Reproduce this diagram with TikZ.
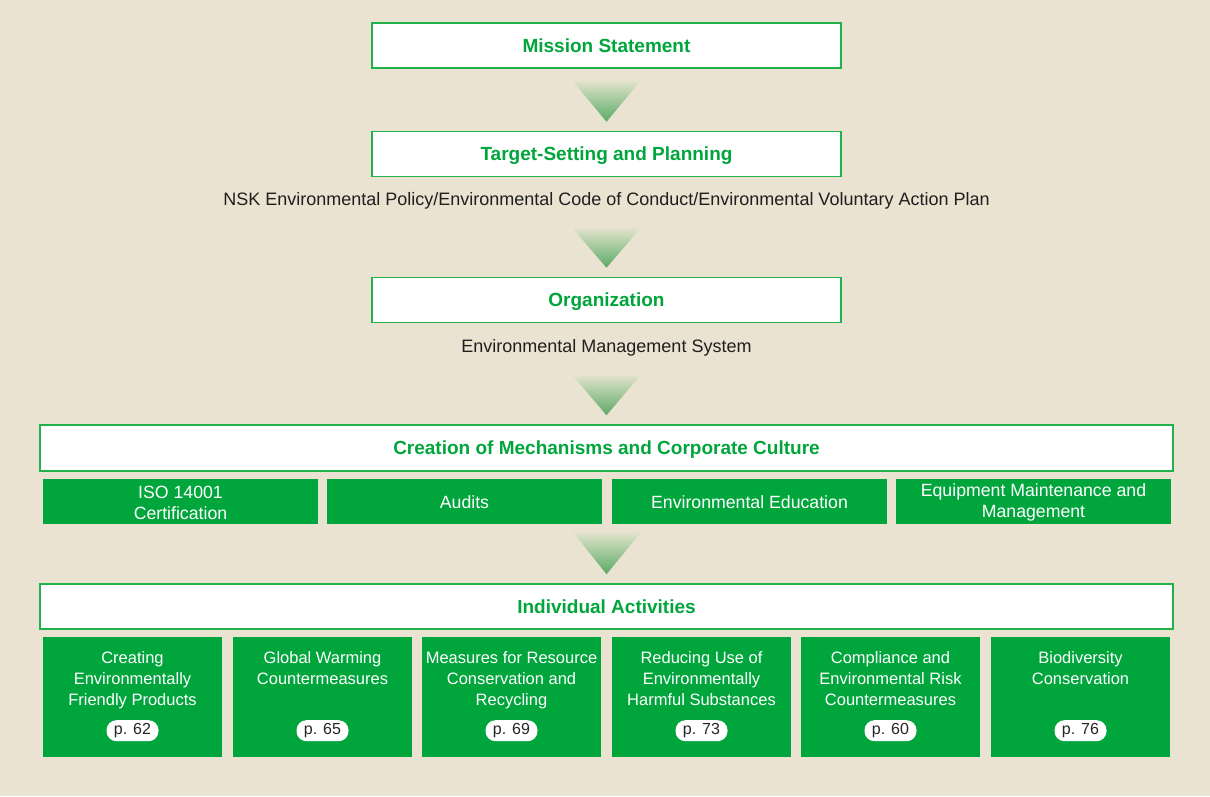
\documentclass[tikz,border=0pt]{standalone}
\usepackage{fontspec}
\setmainfont{Liberation Sans}
\usetikzlibrary{calc}
\definecolor{bg}{HTML}{EAE3D1}
\definecolor{nskgreen}{HTML}{00A63C}
\definecolor{edgegreen}{HTML}{22B24C}
\definecolor{tritop}{HTML}{E2E3CB}
\definecolor{tribot}{HTML}{5AAA66}
\tikzset{
  titlebox/.style={draw=edgegreen, line width=1.5pt, fill=white, minimum height=45, inner sep=0,
    text height=13.6, text depth=0,
    text=nskgreen, font=\fontsize{19}{22}\selectfont\bfseries},
  subbox/.style={fill=nskgreen, minimum width=275, minimum height=45, inner sep=0},
  actbox/.style={fill=nskgreen, minimum width=179, minimum height=120, inner sep=0},
  whitetext/.style={text=white, align=center, inner sep=0, font=\fontsize{16.5}{21}\selectfont},
  subtext/.style={text=white, align=center, inner sep=0, font=\fontsize{17.7}{21}\selectfont},
  pill/.style={fill=white, rounded corners=10, minimum width=52, minimum height=21, inner sep=0,
    text=black!85, font=\fontsize{16}{18}\selectfont},
  plain/.style={text=black!88, inner sep=0, font=\fontsize{18}{20}\selectfont},
  tri/.style={top color=tritop, bottom color=tribot, draw=none}
}
\begin{document}
\begin{tikzpicture}[x=1pt,y=-1pt]
\fill[bg] (0,0) rectangle (1210,796);
\useasboundingbox (0,0) rectangle (1210,796);

\node[titlebox, minimum width=469] (ms) at (606.5,45.5) {Mission Statement};
\node[titlebox, minimum width=469] (tp) at (606.5,154) {Target-Setting and Planning};
\node[plain] (pol) at (606.5,200.5) {NSK Environmental Policy/Environmental Code of Conduct/Environmental Voluntary Action Plan};
\node[titlebox, minimum width=469] (org) at (606.5,300) {Organization};
\node[plain] (ems) at (606.5,347.5) {Environmental Management System};
\node[titlebox, minimum width=1133, minimum height=46] (cr) at (606.5,448) {Creation of Mechanisms and Corporate Culture};

\node[subbox] (s1) at (180.5,501.5) {};
\node[subbox] (s2) at (464.5,501.5) {};
\node[subbox] (s3) at (749.5,501.5) {};
\node[subbox] (s4) at (1033.5,501.5) {};
\node[subtext] (s1t) at ($(s1)+(0,1)$) {ISO 14001\\Certification};
\node[subtext] (s2t) at ($(s2)+(0,1)$) {Audits};
\node[subtext] (s3t) at ($(s3)+(0,1)$) {Environmental Education};
\node[subtext] (s4t) at ($(s4)+(0,1)$) {Equipment Maintenance and\\Management};

\node[titlebox, minimum width=1133] (ia) at (606.5,606.5) {Individual Activities};

\foreach \i/\x/\t/\p in {
  1/132.5/{Creating\\Environmentally\\Friendly Products}/62,
  2/322.5/{Global Warming\\Countermeasures}/65,
  3/511.5/{Measures for Resource\\Conservation and\\Recycling}/69,
  4/701.5/{Reducing Use of\\Environmentally\\Harmful Substances}/73,
  5/890.5/{Compliance and\\Environmental Risk\\Countermeasures}/60,
  6/1080.5/{Biodiversity\\Conservation}/76}{
  \node[actbox] (a\i) at (\x,697) {};
  \node[whitetext, anchor=north] (a\i t) at ($(a\i.north)+(0,14.5)$) {\t};
  \node[pill] (a\i p) at ($(a\i.south)+(0,-26.5)$) {p. \p};
}

% arrow triangles
\shade[tri] ($(ms.south)+(-34,12)$) -- ($(ms.south)+(34,12)$) -- ($(tp.north)+(0,-9)$) -- cycle;
\shade[tri] ($(pol.south)+(-34,19)$) -- ($(pol.south)+(34,19)$) -- ($(org.north)+(0,-9)$) -- cycle;
\shade[tri] ($(ems.south)+(-34,19)$) -- ($(ems.south)+(34,19)$) -- ($(cr.north)+(0,-9)$) -- cycle;
\shade[tri] ($(s2.south)!0.5!(s3.south)+(-34,8)$) -- ($(s2.south)!0.5!(s3.south)+(34,8)$) -- ($(ia.north)+(0,-9)$) -- cycle;
\end{tikzpicture}
\end{document}
